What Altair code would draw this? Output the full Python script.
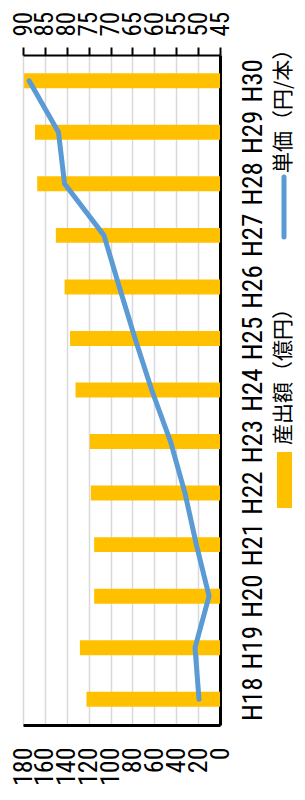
import altair as alt
import pandas as pd

# ---- data ----
years = ["H18", "H19", "H20", "H21", "H22", "H23", "H24", "H25", "H26", "H27", "H28", "H29", "H30"]
production = [122, 128, 115, 115, 118, 119, 132, 137, 142, 150, 167, 169, 179]   # 産出額（億円）
unit_price = [49.8, 50.7, 47.5, 50.4, 53.0, 56.3, 60.6, 64.4, 68.0, 71.5, 80.5, 81.9, 88.6]  # 単価（円/本）
series_names = ["産出額（億円）", "単価（円/本）"]
series_colors = ["#FFC000", "#5B9BD5"]
bar_ticks = list(range(0, 181, 20))
line_ticks = list(range(45, 91, 5))

df = pd.DataFrame({"year": years, "production": production, "price": unit_price,
                   "idx": list(range(len(years)))})

FONT = "Roboto Condensed, DejaVu Sans Condensed, sans-serif"
CJK = "Noto Sans CJK JP"
FS = 27

y_enc = alt.Y(
    "year:N",
    sort=years[::-1],
    scale=alt.Scale(paddingInner=0.71, paddingOuter=0.355),
    axis=alt.Axis(orient="right", title=None, ticks=False, domainColor="black", domainWidth=3,
                  labelAngle=270, labelAlign="center", labelBaseline="middle", labelPadding=33,
                  labelFontSize=FS, labelFont=FONT, labelColor="black", grid=False,
                  labelOverlap=False, labelBound=False),
)

bars = alt.Chart(df).mark_bar(color=series_colors[0]).encode(
    x=alt.X("production:Q",
            scale=alt.Scale(domain=[0, 180], reverse=True, nice=False),
            axis=alt.Axis(orient="bottom", values=bar_ticks, title=None, ticks=False,
                          domainColor="black", domainWidth=3, grid=True, gridColor="#D9D9D9",
                          gridWidth=1.5, labelAngle=270, labelPadding=22, labelFontSize=26,
                          labelFont=FONT, labelColor="black", labelOverlap=False,
                          labelBound=False, labelFlush=False)),
    y=y_enc,
)

line = alt.Chart(df).mark_line(color=series_colors[1], strokeWidth=5, strokeCap="round",
                               strokeJoin="round").encode(
    x=alt.X("price:Q",
            scale=alt.Scale(domain=[45, 90], reverse=True, nice=False, zero=False),
            axis=alt.Axis(orient="top", values=line_ticks, title=None, ticks=True, tickSize=8,
                          tickColor="black", tickWidth=2, domainColor="black", domainWidth=2,
                          grid=False, labelAngle=270, labelPadding=11, labelFontSize=25,
                          labelFont=FONT, labelColor="black", labelOverlap=False,
                          labelBound=False, labelFlush=False)),
    y=y_enc,
    order="idx:Q",
)

# ---- manual (rotated) legend ----
LX = 261
LFS = 21
leg_bar_swatch = alt.Chart(pd.DataFrame({"n": [series_names[0]]})).mark_rect(
    color=series_colors[0]).encode(
    x=alt.value(LX - 7), x2=alt.value(LX + 8), y=alt.value(397), y2=alt.value(453))
leg_bar_text = alt.Chart(pd.DataFrame({"n": [series_names[0]]})).mark_text(
    angle=270, align="left", baseline="middle", font=CJK, fontSize=LFS, color="black").encode(
    text="n:N", x=alt.value(LX), y=alt.value(390))
leg_line_swatch = alt.Chart(pd.DataFrame({"n": [series_names[1]]})).mark_rule(
    color=series_colors[1], strokeWidth=5, strokeCap="round").encode(
    x=alt.value(LX), y=alt.value(122), y2=alt.value(182))
leg_line_text = alt.Chart(pd.DataFrame({"n": [series_names[1]]})).mark_text(
    angle=270, align="left", baseline="middle", font=CJK, fontSize=LFS, color="black").encode(
    text="n:N", x=alt.value(LX), y=alt.value(118))

chart = alt.layer(bars, line, leg_bar_swatch, leg_bar_text, leg_line_swatch, leg_line_text
                  ).resolve_scale(x="independent").properties(
    width=197, height=670,
    padding={"left": 15, "top": 47, "right": 77, "bottom": 65},
    autosize=alt.AutoSizeParams(type="none"),
).configure_view(stroke=None).configure(background="white")

chart.save("out.html", embed_options={"renderer": "svg", "actions": False})
